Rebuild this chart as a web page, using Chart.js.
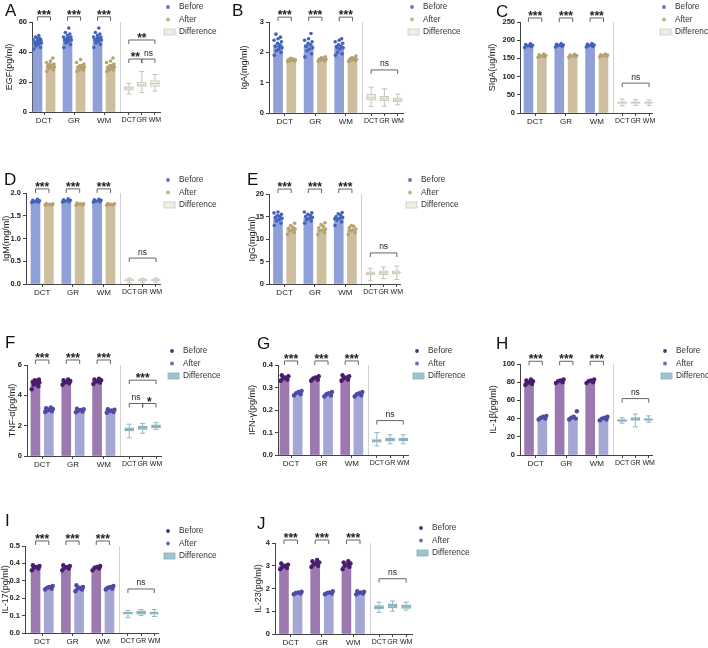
<!DOCTYPE html>
<html><head><meta charset="utf-8">
<script src="https://cdn.jsdelivr.net/npm/chart.js@4"></script>
<style>
body{margin:0;background:#fff;width:708px;height:648px;overflow:hidden;position:relative;font-family:'Liberation Sans',Arial,sans-serif}
canvas{position:absolute;left:0;top:0}
.lab{position:absolute;font-size:17px;line-height:1;color:#111}
</style></head><body>
<script>
// ---------- shared labels ----------
const groupNames = ['DCT','GR','WM'];
const seriesNames = ['Before','After','Difference'];
const xTickLabels = ['DCT','GR','WM','DCT','GR','WM'];

// ---------- A: EGF ----------
const A_before = [47, 49, 49];
const A_after = [31, 30, 30];
const A_beforeDots = [[42,43,44,45,46,46,47,47,48,48,49,49,50,51,45,47],[43,45,46,47,48,48,49,49,50,50,51,52,53,56,47],[43,45,46,47,48,48,49,49,50,50,51,52,53,56,48]];
const A_afterDots = [[27,28,29,30,30,31,31,32,32,33,34,36,30],[27,28,28,29,30,30,31,31,32,33,35,29],[27,28,28,29,30,30,31,31,32,33,34,36,29]];
const A_diff = [[12,14.5,16,17,19],[13,17,18,20,27],[14,17,19,21,25]]; // min,q1,median,q3,max
const A_groupSig = ['***','***','***'];
const A_diffSig = [{a:0,b:2,t:'**'},{a:0,b:1,t:'**'},{a:1,b:2,t:'ns'}];

// ---------- B: IgA ----------
const B_before = [2.25, 2.25, 2.18];
const B_after = [1.75, 1.77, 1.77];
const B_beforeDots = [[1.9,2.0,2.05,2.1,2.15,2.2,2.25,2.3,2.35,2.4,2.45,2.5,2.6,2.2],[1.85,1.95,2.05,2.1,2.15,2.2,2.25,2.3,2.35,2.4,2.45,2.62,2.2],[1.9,1.95,2.0,2.1,2.15,2.2,2.2,2.25,2.3,2.35,2.4,2.45,2.15]];
const B_afterDots = [[1.7,1.72,1.73,1.75,1.75,1.76,1.78,1.8,1.74],[1.7,1.72,1.74,1.76,1.77,1.78,1.8,1.82,1.85],[1.7,1.72,1.74,1.76,1.77,1.78,1.8,1.83,1.88]];
const B_diff = [[0.22,0.42,0.5,0.62,0.85],[0.22,0.4,0.47,0.55,0.8],[0.27,0.37,0.43,0.5,0.62]];
const B_groupSig = ['***','***','***'];
const B_diffSig = [{a:0,b:2,t:'ns'}];

// ---------- C: SIgA ----------
const C_before = [185, 186, 186];
const C_after = [157, 157, 158];
const C_beforeDots = [[180,182,184,185,186,188,190],[181,183,185,186,187,189,191],[181,183,185,186,187,189,191]];
const C_afterDots = [[153,155,156,157,158,160,162],[153,155,156,157,158,159,161],[154,156,157,158,159,160,162]];
const C_diff = [[20,26,29,31,38],[21,26,29,31,37],[21,26,29,31,36]];
const C_groupSig = ['***','***','***'];
const C_diffSig = [{a:0,b:2,t:'ns'}];

// ---------- D: IgM ----------
const D_before = [1.82, 1.83, 1.83];
const D_after = [1.75, 1.75, 1.75];
const D_beforeDots = [[1.79,1.8,1.81,1.82,1.83,1.84,1.86],[1.8,1.81,1.82,1.83,1.84,1.85,1.87],[1.8,1.81,1.82,1.83,1.84,1.85,1.86]];
const D_afterDots = [[1.73,1.74,1.75,1.75,1.76,1.77],[1.73,1.74,1.75,1.76,1.76,1.78],[1.73,1.74,1.75,1.75,1.76,1.77]];
const D_diff = [[0.03,0.07,0.08,0.1,0.13],[0.04,0.07,0.08,0.1,0.12],[0.04,0.07,0.09,0.11,0.13]];
const D_groupSig = ['***','***','***'];
const D_diffSig = [{a:0,b:2,t:'ns'}];

// ---------- E: IgG ----------
const E_before = [14.7, 14.7, 14.8];
const E_after = [12.2, 12.1, 12.1];
const E_beforeDots = [[13,13.5,14,14.3,14.6,14.8,15,15.2,15.5,15.8,16,14.5],[13.5,14,14.3,14.6,14.8,15,15.2,15.5,15.8,16],[13,13.8,14.2,14.6,14.8,15,15.3,15.6,15.9,14.5]];
const E_afterDots = [[11,11.5,11.8,12,12.2,12.4,12.6,13,13.5],[11,11.4,11.8,12,12.2,12.5,12.8,13.2,13.6],[11,11.4,11.8,12,12.2,12.5,12.8,13]];
const E_diff = [[0.7,2.0,2.3,2.7,3.5],[1.2,2.1,2.5,2.9,3.8],[1.0,2.2,2.5,2.9,4.0]];
const E_groupSig = ['***','***','***'];
const E_diffSig = [{a:0,b:2,t:'ns'}];

// ---------- F: TNF-α ----------
const F_before = [4.85, 4.9, 4.95];
const F_after = [3.05, 3.0, 2.97];
const F_beforeDots = [[4.4,4.6,4.7,4.8,4.85,4.9,4.95,5.0,5.05],[4.7,4.8,4.85,4.9,4.95,5.0,5.05],[4.75,4.85,4.9,4.95,5.0,5.05,5.1]];
const F_afterDots = [[2.9,2.95,3.0,3.05,3.1,3.15,3.2],[2.88,2.93,2.98,3.03,3.08,3.12],[2.85,2.9,2.95,3.0,3.05,3.08]];
const F_diff = [[1.2,1.65,1.75,1.85,2.1],[1.5,1.75,1.85,1.95,2.15],[1.75,1.85,1.95,2.05,2.2]];
const F_groupSig = ['***','***','***'];
const F_diffSig = [{a:0,b:2,t:'***'},{a:0,b:1,t:'ns'},{a:1,b:2,t:'*'}];

// ---------- G: IFN-γ ----------
const G_before = [0.34, 0.34, 0.34];
const G_after = [0.275, 0.27, 0.27];
const G_beforeDots = [[0.33,0.335,0.34,0.345,0.35,0.355],[0.33,0.335,0.34,0.345,0.35],[0.33,0.335,0.34,0.345,0.35,0.355]];
const G_afterDots = [[0.265,0.27,0.275,0.28,0.285],[0.26,0.265,0.27,0.275,0.28],[0.26,0.265,0.27,0.275,0.28]];
const G_diff = [[0.04,0.057,0.063,0.068,0.1],[0.05,0.062,0.068,0.075,0.09],[0.05,0.063,0.068,0.075,0.09]];
const G_groupSig = ['***','***','***'];
const G_diffSig = [{a:0,b:2,t:'ns'}];

// ---------- H: IL-1β ----------
const H_before = [80, 81, 81];
const H_after = [41, 41, 40];
const H_beforeDots = [[77,78,79,80,81,82,83],[79,80,81,82,83],[79,80,81,82,83]];
const H_afterDots = [[39,40,41,42,43],[39,40,41,42,48],[38,39,40,41,42]];
const H_diff = [[35,37,38,39,41],[31,38,39.5,41,45],[36,38,39,40,43]];
const H_groupSig = ['***','***','***'];
const H_diffSig = [{a:0,b:2,t:'ns'}];

// ---------- I: IL-17 ----------
const I_before = [0.375, 0.375, 0.375];
const I_after = [0.26, 0.255, 0.26];
const I_beforeDots = [[0.36,0.37,0.375,0.38,0.385,0.39],[0.36,0.37,0.375,0.38,0.385,0.39],[0.36,0.37,0.375,0.38,0.385]];
const I_afterDots = [[0.25,0.255,0.26,0.265,0.27],[0.24,0.25,0.255,0.26,0.265,0.275],[0.25,0.255,0.26,0.265,0.27]];
const I_diff = [[0.09,0.108,0.115,0.12,0.13],[0.1,0.108,0.117,0.128,0.135],[0.095,0.108,0.115,0.12,0.135]];
const I_groupSig = ['***','***','***'];
const I_diffSig = [{a:0,b:2,t:'ns'}];

// ---------- J: IL-23 ----------
const J_before = [2.97, 3.05, 3.0];
const J_after = [1.8, 1.8, 1.8];
const J_beforeDots = [[2.85,2.9,2.95,3.0,3.05,3.1],[2.95,3.0,3.05,3.1,3.15,3.2,3.25],[2.85,2.95,3.0,3.05,3.1,3.15,3.2]];
const J_afterDots = [[1.75,1.78,1.8,1.83,1.86],[1.75,1.78,1.8,1.83,1.88],[1.74,1.78,1.8,1.83,1.86,1.88]];
const J_diff = [[0.95,1.1,1.17,1.25,1.4],[1.0,1.15,1.25,1.33,1.45],[1.05,1.12,1.2,1.28,1.4]];
const J_groupSig = ['***','***','***'];
const J_diffSig = [{a:0,b:2,t:'ns'}];

// ---------- layout (positions on hidden linear x axis, styles) ----------
const POS_BEFORE = [1, 3.3, 5.6];
const POS_AFTER = [2, 4.3, 6.6];
const POS_DIFF = [8, 9, 10];
const DIVIDER = 7.3;
const TICK_POS = [1.5, 3.8, 6.1, 8, 9, 10];
const JIT = [-0.28,0.22,-0.12,0.06,0.3,-0.2,0.14,-0.04,0.26,-0.3,0.0,0.18,-0.16,0.1,-0.08,0.24];

const PAL1 = {beforeBar:'#8FA0D8', afterBar:'#CDBE9E', beforeDot:'#4262BC', afterDot:'#B7A171', legBefore:'#5C76C6', legAfter:'#C6B283', box:'#EEEDE6', boxBorder:'#CBC8BD', whisker:'#C4C1B6', r:1.8};
const PAL2 = {beforeBar:'#9B78AF', afterBar:'#A4A7D3', beforeDot:'#4A1C6D', afterDot:'#4D4BA5', legBefore:'#5A2C7C', legAfter:'#6D6BC0', box:'#A0C4CE', boxBorder:'#85AEBA', whisker:'#93B6C0', r:2.2};

const PANELS = [
 {L:'A', title:'EGF(pg/ml)', before:A_before, after:A_after, bd:A_beforeDots, ad:A_afterDots, diff:A_diff, gs:A_groupSig, ds:A_diffSig, ymax:60, step:20, dec:0, pal:PAL1,
  g:{left:32,right:160,top:22,zero:112,xmin:0.58,xmax:10.39,yw:28,legX:168,legY:7,lx:5,ly:4,gBr:63.5,dBr:[48,35.3,35.3]}},
 {L:'B', title:'IgA(mg/ml)', before:B_before, after:B_after, bd:B_beforeDots, ad:B_afterDots, diff:B_diff, gs:B_groupSig, ds:B_diffSig, ymax:3, step:1, dec:0, pal:PAL1,
  g:{left:269,right:403,top:22,zero:113,xmin:0.32,xmax:10.4,yw:30,legX:412,legY:7,lx:232,ly:4,gBr:3.16,dBr:[1.42]}},
 {L:'C', title:'SIgA(ug/ml)', before:C_before, after:C_after, bd:C_beforeDots, ad:C_afterDots, diff:C_diff, gs:C_groupSig, ds:C_diffSig, ymax:250, step:50, dec:0, pal:PAL1,
  g:{left:520,right:652,top:22,zero:113,xmin:0.37,xmax:10.22,yw:33,legX:664,legY:7,lx:496,ly:5,gBr:261,dBr:[82]}},
 {L:'D', title:'IgM(mg/ml)', before:D_before, after:D_after, bd:D_beforeDots, ad:D_afterDots, diff:D_diff, gs:D_groupSig, ds:D_diffSig, ymax:2, step:0.5, dec:1, pal:PAL1,
  g:{left:26,right:160,top:193,zero:284,xmin:0.29,xmax:10.3,yw:25,legX:168,legY:180,lx:4,ly:173,gBr:2.09,dBr:[0.57]}},
 {L:'E', title:'IgG(mg/ml)', before:E_before, after:E_after, bd:E_beforeDots, ad:E_afterDots, diff:E_diff, gs:E_groupSig, ds:E_diffSig, ymax:20, step:5, dec:0, pal:PAL1,
  g:{left:269,right:400,top:194,zero:284,xmin:0.32,xmax:10.24,yw:22,legX:410,legY:180,lx:247,ly:173,gBr:21.1,dBr:[6.9]}},
 {L:'F', title:'TNF-α(pg/ml)', before:F_before, after:F_after, bd:F_beforeDots, ad:F_afterDots, diff:F_diff, gs:F_groupSig, ds:F_diffSig, ymax:6, step:2, dec:0, pal:PAL2,
  g:{left:27,right:161,top:365,zero:456,xmin:0.37,xmax:10.37,yw:20,legX:172,legY:351,lx:5,ly:336,gBr:6.33,dBr:[5.0,3.46,3.46]}},
 {L:'G', title:'IFN-γ(pg/ml)', before:G_before, after:G_after, bd:G_beforeDots, ad:G_afterDots, diff:G_diff, gs:G_groupSig, ds:G_diffSig, ymax:0.4, step:0.1, dec:1, pal:PAL2,
  g:{left:278,right:408,top:365,zero:455,xmin:0.51,xmax:10.36,yw:31,legX:417,legY:351,lx:257,ly:337,gBr:0.418,dBr:[0.153]}},
 {L:'H', title:'IL-1β(pg/ml)', before:H_before, after:H_after, bd:H_beforeDots, ad:H_afterDots, diff:H_diff, gs:H_groupSig, ds:H_diffSig, ymax:100, step:20, dec:0, pal:PAL2,
  g:{left:520,right:652,top:364,zero:455,xmin:0.32,xmax:10.25,yw:32,legX:665,legY:351,lx:496,ly:337,gBr:103,dBr:[62]}},
 {L:'I', title:'IL-17(pg/ml)', before:I_before, after:I_after, bd:I_beforeDots, ad:I_afterDots, diff:I_diff, gs:I_groupSig, ds:I_diffSig, ymax:0.5, step:0.1, dec:1, pal:PAL2,
  g:{left:25,right:158,top:546,zero:633,xmin:0.2,xmax:10.28,yw:25,legX:168,legY:531,lx:5,ly:514,gBr:0.529,dBr:[0.253]}},
 {L:'J', title:'IL-23(pg/ml)', before:J_before, after:J_after, bd:J_beforeDots, ad:J_afterDots, diff:J_diff, gs:J_groupSig, ds:J_diffSig, ymax:4, step:1, dec:0, pal:PAL2,
  g:{left:275,right:412,top:543,zero:634,xmin:0.34,xmax:10.43,yw:22,legX:421,legY:528,lx:257,ly:517,gBr:4.13,dBr:[2.43]}}
];

Chart.defaults.font.family = "'Liberation Sans', Arial, sans-serif";
const XH = 14;
const INK = '#444';

const annot = {
  id: 'annot',
  afterDatasetsDraw(chart, args, opts) {
    const p = opts.p, pal = p.pal, g = p.g;
    const ctx = chart.ctx, xs = chart.scales.x, ys = chart.scales.y, ca = chart.chartArea;
    ctx.save();
    const dx = Math.round(xs.getPixelForValue(DIVIDER)) + 0.5;
    ctx.strokeStyle = '#d2d2d2'; ctx.lineWidth = 1;
    ctx.beginPath(); ctx.moveTo(dx, ca.top); ctx.lineTo(dx, ca.bottom); ctx.stroke();
    p.diff.forEach((s, i) => {
      const cx = xs.getPixelForValue(POS_DIFF[i]);
      const [mn, q1, md, q3, mx] = s.map(v => ys.getPixelForValue(v));
      ctx.strokeStyle = pal.whisker; ctx.lineWidth = 1;
      ctx.beginPath();
      ctx.moveTo(cx, mn); ctx.lineTo(cx, q1);
      ctx.moveTo(cx, q3); ctx.lineTo(cx, mx);
      ctx.moveTo(cx - 2.5, mn); ctx.lineTo(cx + 2.5, mn);
      ctx.moveTo(cx - 2.5, mx); ctx.lineTo(cx + 2.5, mx);
      ctx.stroke();
      ctx.strokeStyle = pal.boxBorder;
      ctx.beginPath(); ctx.moveTo(cx - 4.5, md); ctx.lineTo(cx + 4.5, md); ctx.stroke();
    });
    const bracket = (x1, x2, y, txt) => {
      ctx.strokeStyle = '#555'; ctx.lineWidth = 0.9;
      ctx.beginPath();
      ctx.moveTo(x1, y + 4); ctx.lineTo(x1, y); ctx.lineTo(x2, y); ctx.lineTo(x2, y + 4);
      ctx.stroke();
      ctx.fillStyle = '#222'; ctx.textAlign = 'center'; ctx.textBaseline = 'alphabetic';
      if (txt === 'ns') {
        ctx.font = "8.5px 'Liberation Sans', Arial, sans-serif";
        ctx.fillText(txt, (x1 + x2) / 2, y - 3.5);
      } else {
        ctx.font = "bold 12px 'Liberation Sans', Arial, sans-serif";
        ctx.fillText(txt, (x1 + x2) / 2, y + 2);
      }
    };
    const gy = ys.getPixelForValue(g.gBr);
    p.gs.forEach((t, i) => bracket(xs.getPixelForValue(POS_BEFORE[i]), xs.getPixelForValue(POS_AFTER[i]), gy, t));
    p.ds.forEach((d, k) => bracket(xs.getPixelForValue(POS_DIFF[d.a]), xs.getPixelForValue(POS_DIFF[d.b]), ys.getPixelForValue(g.dBr[k]), d.t));
    ctx.restore();
  },
  afterDraw(chart, args, opts) {
    const p = opts.p, pal = p.pal, g = p.g, ctx = chart.ctx;
    ctx.save();
    ctx.font = "8.3px 'Liberation Sans', Arial, sans-serif";
    ctx.textBaseline = 'middle'; ctx.textAlign = 'left';
    const cols = [pal.legBefore, pal.legAfter];
    seriesNames.forEach((name, i) => {
      const y = g.legY + i * 12.5;
      if (i < 2) {
        ctx.fillStyle = cols[i];
        ctx.beginPath(); ctx.arc(g.legX, y, 1.9, 0, Math.PI * 2); ctx.fill();
      } else {
        ctx.fillStyle = pal.box; ctx.strokeStyle = pal.boxBorder; ctx.lineWidth = 0.8;
        ctx.fillRect(g.legX - 4, y - 3, 11, 6); ctx.strokeRect(g.legX - 4, y - 3, 11, 6);
      }
      ctx.fillStyle = '#333';
      ctx.fillText(name, g.legX + 11, y);
    });
    ctx.restore();
  }
};

PANELS.forEach(p => {
  const g = p.g, pal = p.pal;
  const cv = document.createElement('canvas');
  cv.width = 708; cv.height = 648;
  document.body.appendChild(cv);
  const lab = document.createElement('div');
  lab.className = 'lab'; lab.textContent = p.L;
  lab.style.left = g.lx + 'px'; lab.style.top = (g.ly - 2) + 'px';
  document.body.appendChild(lab);

  const dots = (arrs, pos) => arrs.flatMap((vals, i) => vals.map((v, k) => ({x: pos[i] + JIT[k % JIT.length], y: v})));

  new Chart(cv, {
    type: 'bar',
    data: {
      datasets: [
        {type:'scatter', label:'Before points', data: dots(p.bd, POS_BEFORE), backgroundColor: pal.beforeDot, borderWidth:0, pointRadius: pal.r, order:1},
        {type:'scatter', label:'After points', data: dots(p.ad, POS_AFTER), backgroundColor: pal.afterDot, borderWidth:0, pointRadius: pal.r, order:1},
        {label: seriesNames[0], data: p.before.map((v, i) => ({x: POS_BEFORE[i], y: v})), backgroundColor: pal.beforeBar, barThickness: 9, grouped:false, order:2},
        {label: seriesNames[1], data: p.after.map((v, i) => ({x: POS_AFTER[i], y: v})), backgroundColor: pal.afterBar, barThickness: 9, grouped:false, order:2},
        {label: seriesNames[2], data: p.diff.map((s, i) => ({x: POS_DIFF[i], y: [s[1], s[3]]})), backgroundColor: pal.box, borderColor: pal.boxBorder, borderWidth: 1, borderSkipped: false, barThickness: 9, grouped:false, order:2}
      ]
    },
    options: {
      responsive: false, animation: false, events: [],
      layout: {padding: {left: g.left - g.yw, top: g.top, right: 708 - g.right, bottom: 648 - g.zero - XH}},
      plugins: {legend: {display:false}, tooltip: {enabled:false}, annot: {p}},
      scales: {
        x: {
          type: 'linear', min: g.xmin, max: g.xmax, offset: false,
          afterBuildTicks: s => { s.ticks = TICK_POS.map(v => ({value: v})); },
          afterFit: s => { s.height = XH; },
          ticks: {autoSkip:false, maxRotation:0, minRotation:0, padding:1, color:'#222',
                  font: ctx => ({size: ctx.index < 3 ? 8 : 7}), callback: (v, i) => xTickLabels[i]},
          grid: {display:true, offset:false, drawOnChartArea:false, drawTicks:true, tickLength:3, color:INK},
          border: {display:true, color:INK, width:1}
        },
        y: {
          min: 0, max: p.ymax,
          afterFit: s => { s.width = g.yw; },
          ticks: {stepSize: p.step, padding: 2, color:'#222', font:{size:7.5, weight:'bold'}, callback: v => Number(v).toFixed(p.dec)},
          title: {display:true, text: p.title, color:'#222', font:{size:9}, padding:0},
          grid: {display:true, drawOnChartArea:false, drawTicks:true, tickLength:3, color:INK},
          border: {display:true, color:INK, width:1}
        }
      }
    },
    plugins: [annot]
  });
});
</script>
</body></html>
